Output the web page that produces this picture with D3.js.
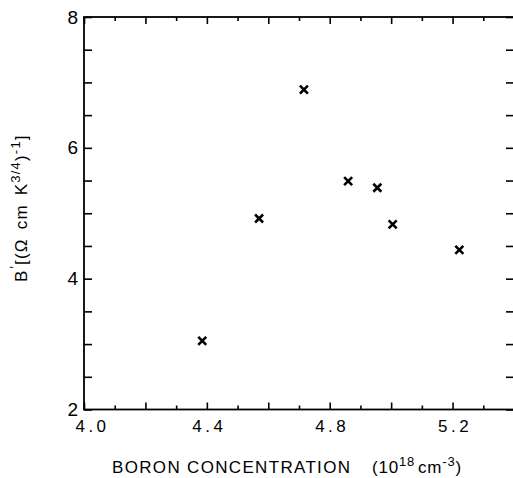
<!DOCTYPE html>
<html>
<head>
<meta charset="utf-8">
<script src="https://cdn.jsdelivr.net/npm/d3@7"></script>
<style>
  html, body { margin: 0; padding: 0; background: #fff; }
  svg { display: block; font-family: "Liberation Sans", Arial, Helvetica, sans-serif; }
</style>
</head>
<body>
<svg id="chart" width="513" height="478"></svg>
<script>
// ---- data ----
const boron = [4.385, 4.57, 4.716, 4.86, 4.955, 5.005, 5.222];   // 10^18 cm^-3
const bPrime = [3.05, 4.92, 6.89, 5.49, 5.39, 4.83, 4.44];      // (Ω cm K^3/4)^-1
const xMajorTicks = [4.0, 4.2, 4.4, 4.6, 4.8, 5.0, 5.2, 5.4];
const xMinorTicks = [4.1, 4.3, 4.5, 4.7, 4.9, 5.1, 5.3];
const xTickLabels = ["4.0", "", "4.4", "", "4.8", "", "5.2", ""];
const yMajorTicks = [2, 4, 6, 8];
const yMinorTicks = [2.5, 3, 3.5, 4.5, 5, 5.5, 6.5, 7, 7.5];
const yTickLabels = ["2", "4", "6", "8"];

const svg = d3.select("#chart");
const x = d3.scaleLinear().domain([4.0, 5.4]).range([84, 514]);
const y = d3.scaleLinear().domain([2, 8]).range([409.5, 17]);

const pLeft = x.range()[0], pRight = x.range()[1];
const pTop = y.range()[1], pBottom = y.range()[0];

function styleAxis(g) {
  g.select(".domain").remove();
  g.selectAll(".tick line").attr("stroke", "#000").attr("stroke-width", 1.6);
  g.selectAll(".tick text").attr("fill", "#000");
}

// bottom axis (major with labels)
svg.append("g").attr("transform", `translate(0,${pBottom})`)
  .call(d3.axisBottom(x).tickValues(xMajorTicks).tickSize(-7).tickPadding(0)
    .tickFormat((d, i) => xTickLabels[i]))
  .call(styleAxis)
  .call(g => g.selectAll(".tick text").attr("font-size", 17).attr("dy", null).attr("y", 22)
    .attr("letter-spacing", 3.5)
    .attr("dx", (d, i) => i === 0 ? 8 : 2));
svg.append("g").attr("transform", `translate(0,${pBottom})`)
  .call(d3.axisBottom(x).tickValues(xMinorTicks).tickSize(-4).tickFormat(""))
  .call(styleAxis);

// top axis
svg.append("g").attr("transform", `translate(0,${pTop})`)
  .call(d3.axisTop(x).tickValues(xMajorTicks).tickSize(-7).tickFormat(""))
  .call(styleAxis);
svg.append("g").attr("transform", `translate(0,${pTop})`)
  .call(d3.axisTop(x).tickValues(xMinorTicks).tickSize(-4).tickFormat(""))
  .call(styleAxis);

// left axis
svg.append("g").attr("transform", `translate(${pLeft},0)`)
  .call(d3.axisLeft(y).tickValues(yMajorTicks).tickSize(-8).tickPadding(0)
    .tickFormat((d, i) => yTickLabels[i]))
  .call(styleAxis)
  .call(g => g.selectAll(".tick text").attr("font-size", 19).attr("x", -6).attr("text-anchor", "end"));
svg.append("g").attr("transform", `translate(${pLeft},0)`)
  .call(d3.axisLeft(y).tickValues(yMinorTicks).tickSize(-8).tickFormat(""))
  .call(styleAxis);

// right axis
svg.append("g").attr("transform", `translate(${pRight},0)`)
  .call(d3.axisRight(y).tickValues(yMajorTicks.concat(yMinorTicks)).tickSize(-8).tickFormat(""))
  .call(styleAxis);

// frame
svg.append("rect")
  .attr("x", pLeft).attr("y", pTop)
  .attr("width", pRight - pLeft).attr("height", pBottom - pTop)
  .attr("fill", "none").attr("stroke", "#000").attr("stroke-width", 1.8);

// markers (×)
const s = 4;
const pts = boron.map((b, i) => [x(b), y(bPrime[i])]);
svg.append("g").selectAll("path").data(pts).join("path")
  .attr("d", d => `M${d[0]-s},${d[1]-s}L${d[0]+s},${d[1]+s}M${d[0]-s},${d[1]+s}L${d[0]+s},${d[1]-s}`)
  .attr("stroke", "#000").attr("stroke-width", 2.6).attr("fill", "none");

// x title
svg.append("text").attr("x", 112).attr("y", 473)
  .attr("font-size", 17).attr("fill", "#000")
  .attr("textLength", 238).attr("lengthAdjust", "spacing")
  .text("BORON CONCENTRATION");
const xu = svg.append("text").attr("x", 372).attr("y", 473)
  .attr("font-size", 17).attr("fill", "#000").attr("letter-spacing", 0.8);
xu.append("tspan").text("(10");
xu.append("tspan").attr("font-size", 13).attr("dy", -7).text("18");
xu.append("tspan").attr("dy", 7).attr("dx", 3).text("cm");
xu.append("tspan").attr("font-size", 13).attr("dy", -7).text("-3");
xu.append("tspan").attr("dy", 7).text(")");

// y title
const yt = svg.append("text")
  .attr("transform", "translate(27,282) rotate(-90)")
  .attr("font-size", 17).attr("fill", "#000").attr("letter-spacing", 1.2);
yt.append("tspan").text("B");
yt.append("tspan").attr("font-size", 12).attr("dy", -8).attr("dx", 1).text("′");
yt.append("tspan").attr("dy", 8).text("[(Ω");
yt.append("tspan").attr("dx", 9).text("cm");
yt.append("tspan").attr("dx", 9).text("K");
yt.append("tspan").attr("font-size", 13).attr("dy", -7).text("3/4");
yt.append("tspan").attr("dy", 7).text(")");
yt.append("tspan").attr("font-size", 13).attr("dy", -7).text("-1");
yt.append("tspan").attr("dy", 7).text("]");
</script>
</body>
</html>
